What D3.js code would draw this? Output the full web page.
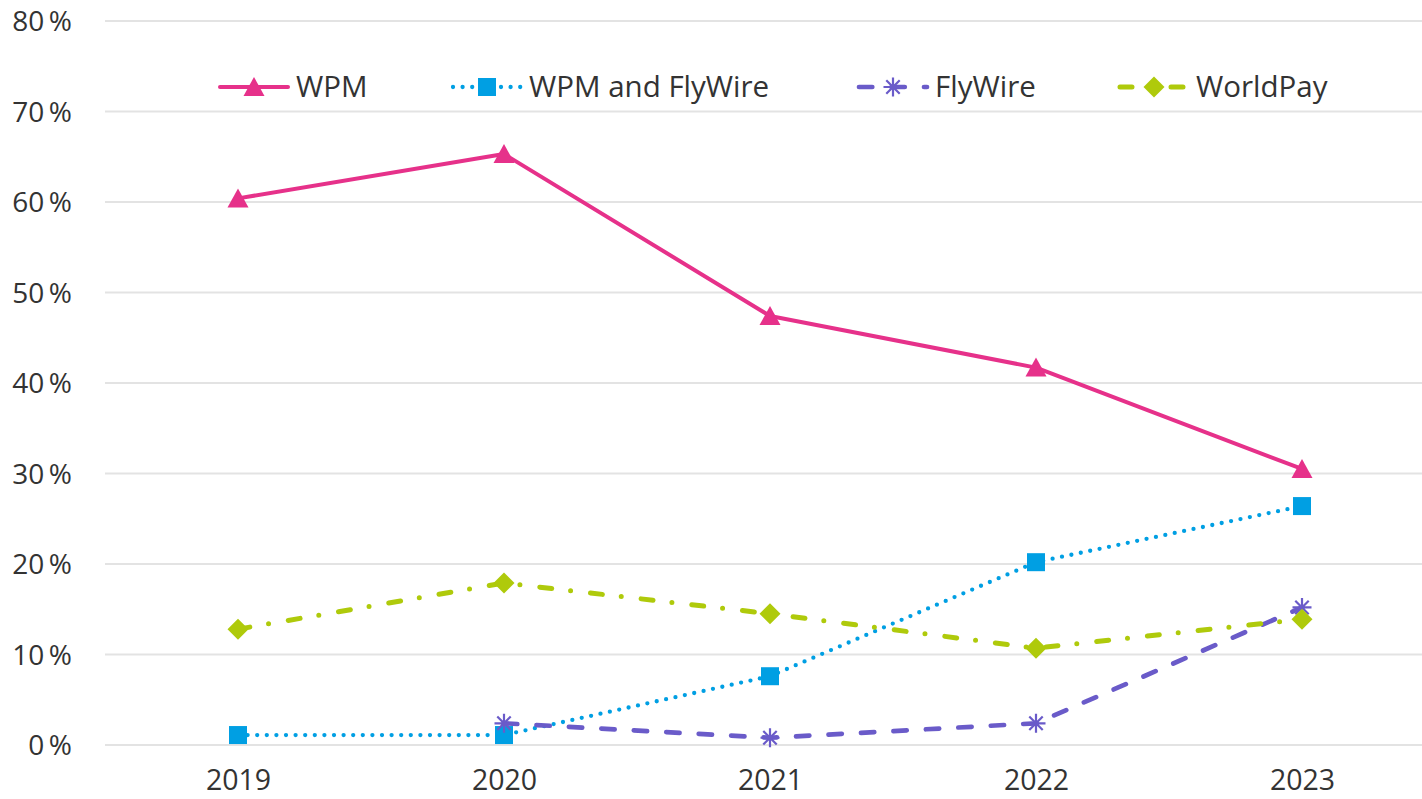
<!DOCTYPE html>
<html>
<head>
<meta charset="utf-8">
<script src="https://cdn.jsdelivr.net/npm/d3@7"></script>
<style>
  html, body { margin: 0; padding: 0; background: #fff; }
  svg { display: block; }
  text { font-family: "Open Sans", "Noto Sans", sans-serif; fill: #333; }
</style>
</head>
<body>
<svg id="chart" width="1422" height="799"></svg>
<script>
const years = ["2019", "2020", "2021", "2022", "2023"];
const yTicks = [0, 10, 20, 30, 40, 50, 60, 70, 80];
const seriesNames = ["WPM", "WPM and FlyWire", "FlyWire", "WorldPay"];
const wpm = [60.4, 65.3, 47.4, 41.7, 30.5];
const wpmFlyWire = [1.1, 1.1, 7.6, 20.2, 26.4];
const flyWire = [null, 2.4, 0.8, 2.4, 15.2];
const worldPay = [12.8, 17.9, 14.5, 10.7, 13.9];

const styles = [
  { color: "#E6318A", width: 4, dash: null, cap: "round", marker: "triangle" },
  { color: "#009FE3", width: 4.3, dash: "0 9.6", cap: "round", marker: "square" },
  { color: "#6A5BC9", width: 4.7, dash: "13.3 19.2", cap: "round", marker: "star" },
  { color: "#AFCA0B", width: 5, dash: "12 19 0 20", cap: "round", marker: "diamond" }
];
const values = [wpm, wpmFlyWire, flyWire, worldPay];

const svg = d3.select("#chart");
const x = d3.scalePoint().domain(years).range([238, 1302]);
const y = d3.scaleLinear().domain([0, 80]).range([745, 21]);

// gridlines
svg.append("g").selectAll("line").data(yTicks).join("line")
  .attr("x1", 105).attr("x2", 1422)
  .attr("y1", d => y(d)).attr("y2", d => y(d))
  .attr("stroke", "#e3e3e3").attr("stroke-width", 2);

// y axis labels
const yAxis = d3.axisLeft(y).tickValues(yTicks).tickSize(0).tickFormat(d => d + "\u2009%");
const yg = svg.append("g").attr("transform", "translate(72,0)").call(yAxis);
yg.select(".domain").remove();
yg.selectAll("text").attr("x", 0).attr("dy", "0.34em")
  .style("font-size", "28px").style("font-family", "'Open Sans', sans-serif").attr("fill", "#333");

// x axis labels
const xAxis = d3.axisBottom(x).tickSize(0);
const xg = svg.append("g").attr("transform", "translate(0,745)").call(xAxis);
xg.select(".domain").remove();
xg.selectAll("text").attr("y", 35).attr("dy", "0.34em")
  .style("font-size", "28.5px").style("font-family", "'Open Sans', sans-serif").attr("fill", "#333");

function drawMarker(g, type, cx, cy, color) {
  if (type === "triangle") {
    g.append("path").attr("d", `M${cx},${cy - 10} L${cx + 10.5},${cy + 9} L${cx - 10.5},${cy + 9} Z`)
      .attr("fill", color);
  } else if (type === "square") {
    g.append("rect").attr("x", cx - 9).attr("y", cy - 9).attr("width", 18).attr("height", 18)
      .attr("fill", color);
  } else if (type === "diamond") {
    g.append("path").attr("d", `M${cx},${cy - 10.5} L${cx + 10.5},${cy} L${cx},${cy + 10.5} L${cx - 10.5},${cy} Z`)
      .attr("fill", color);
  } else if (type === "star") {
    const r = 9.5;
    const d = r * Math.SQRT1_2;
    g.append("path")
      .attr("d", `M${cx},${cy - r}V${cy + r}M${cx - r},${cy}H${cx + r}M${cx - d},${cy - d}L${cx + d},${cy + d}M${cx - d},${cy + d}L${cx + d},${cy - d}`)
      .attr("stroke", color).attr("stroke-width", 2.2).attr("fill", "none");
  }
}

const line = d3.line()
  .defined(d => d.v !== null)
  .x(d => x(d.year)).y(d => y(d.v));

values.forEach((vals, i) => {
  const st = styles[i];
  const data = years.map((yr, j) => ({ year: yr, v: vals[j] }));
  const g = svg.append("g");
  g.append("path").datum(data).attr("d", line)
    .attr("fill", "none").attr("stroke", st.color).attr("stroke-width", st.width)
    .attr("stroke-linecap", st.cap).attr("stroke-linejoin", "round")
    .attr("stroke-dasharray", st.dash);
  data.filter(d => d.v !== null).forEach(d => drawMarker(g, st.marker, x(d.year), y(d.v), st.color));
});

// legend
const legendX = [218, 451, 857, 1118];
const legendY = 87;
const leg = svg.append("g");
seriesNames.forEach((name, i) => {
  const st = styles[i];
  const g = leg.append("g");
  const x0 = legendX[i];
  g.append("line").attr("x1", x0 + 2).attr("x2", x0 + 70).attr("y1", legendY).attr("y2", legendY)
    .attr("stroke", st.color).attr("stroke-width", st.width).attr("stroke-linecap", st.cap)
    .attr("stroke-dasharray", st.dash);
  drawMarker(g, st.marker, x0 + 36, legendY, st.color);
  g.append("text").attr("x", x0 + 78).attr("y", legendY).attr("dy", "0.35em")
    .style("font-size", "29.5px").text(name);
});
</script>
</body>
</html>
